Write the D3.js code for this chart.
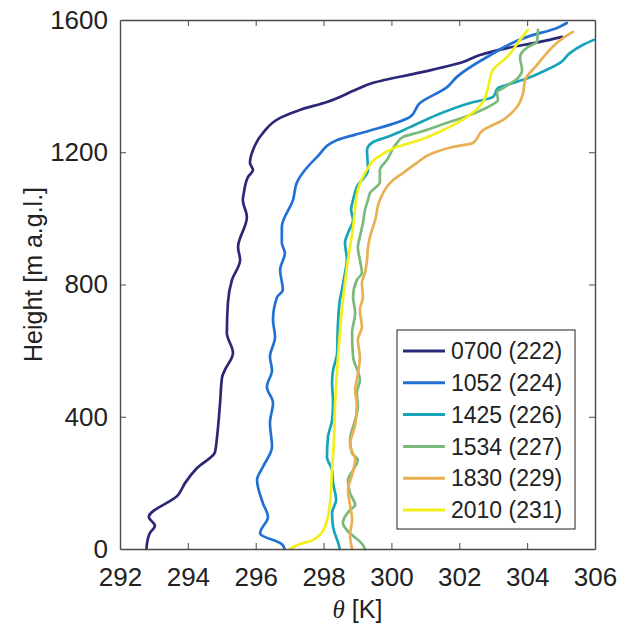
<!DOCTYPE html>
<html><head><meta charset="utf-8">
<script src="https://cdn.jsdelivr.net/npm/d3@7"></script>
<style>body{margin:0;background:#fff}svg{display:block}text{font-family:"Liberation Sans",Arial,sans-serif}</style>
</head><body><svg id="c" width="619" height="636"></svg>
<script>
const xTicks = [292,294,296,298,300,302,304,306];
const yTicks = [0,400,800,1200,1600];
const seriesNames = ["0700 (222)","1052 (224)","1425 (226)","1534 (227)","1830 (229)","2010 (231)"];
const seriesColors = ["#2b2878","#2271d2","#17a4b8","#79b97b","#e9b052","#f3ee1c"];

const h0700 = [0,12,48,70,97,163,200,245,293,339,442,520,541,593,653,744,814,874,913,1004,1056,1077,1125,1146,1168,1207,1258,1304,1328,1352,1388,1410,1443,1473,1494,1515,1534,1549];
const t0700 = [292.78,292.79,292.88,293.03,292.85,293.71,293.92,294.27,294.80,294.86,294.95,295.01,295.09,295.33,295.15,295.18,295.30,295.54,295.48,295.74,295.62,295.65,295.77,295.92,295.83,295.92,296.21,296.72,297.30,298.10,298.93,299.46,300.93,302.11,302.61,303.41,304.38,305.03];

const h1052 = [0,12,48,97,139,209,248,309,381,442,490,541,581,641,693,762,783,844,895,926,974,1056,1110,1186,1237,1261,1307,1349,1397,1428,1488,1549,1576,1591];
const t1052 = [296.85,296.80,296.13,296.36,296.21,296.04,296.21,296.48,296.42,296.51,296.33,296.48,296.42,296.57,296.51,296.63,296.80,296.72,296.86,296.77,296.77,297.10,297.22,297.81,298.40,299.22,300.55,300.84,301.64,301.93,302.82,304.00,304.88,305.17];

const h1425 = [0,12,67,109,148,200,239,278,339,390,442,502,541,593,672,753,783,835,874,926,956,995,1025,1056,1095,1146,1207,1231,1246,1276,1313,1349,1367,1394,1404,1419,1440,1470,1500,1525,1540];
const t1425 = [298.48,298.45,298.28,298.25,298.37,298.28,298.25,298.10,298.13,298.25,298.28,298.25,298.28,298.40,298.42,298.48,298.54,298.63,298.69,298.63,298.72,298.87,298.81,298.87,298.98,299.31,299.28,299.46,299.87,300.55,301.34,302.32,302.99,303.14,303.41,303.88,304.38,304.97,305.26,305.65,305.97];

const h1534 = [0,12,57,79,118,133,169,209,239,269,290,330,390,430,472,511,581,653,714,762,814,835,874,913,944,986,1025,1056,1077,1110,1146,1177,1228,1246,1261,1289,1313,1343,1358,1382,1394,1425,1449,1488,1518,1534,1570];
const t1534 = [299.22,299.16,298.69,298.57,298.78,298.93,298.78,298.72,298.87,299.01,298.84,298.78,298.93,299.01,298.98,299.07,298.87,298.84,298.93,298.87,298.98,299.13,299.07,299.01,299.07,299.16,299.22,299.31,299.37,299.66,299.66,299.87,300.16,300.34,300.84,301.64,302.32,302.96,303.14,303.11,303.29,303.73,303.85,303.79,304.02,304.29,304.32];

const h1830 = [0,42,88,133,178,224,269,315,375,436,481,511,581,632,672,723,762,805,835,874,913,944,995,1056,1116,1137,1168,1198,1216,1228,1267,1298,1337,1379,1419,1464,1500,1531,1549,1564];
const t1830 = [298.84,298.78,298.84,298.78,298.72,298.84,298.93,298.78,298.93,298.98,298.93,298.98,299.07,299.01,299.13,299.07,299.16,299.13,299.22,299.28,299.31,299.37,299.52,299.66,300.05,300.34,300.75,301.22,301.81,302.40,302.70,303.29,303.70,303.88,303.94,304.29,304.58,304.88,305.11,305.35];

const h2010 = [0,15,27,67,139,239,339,442,541,653,753,853,974,1056,1086,1137,1186,1216,1237,1273,1307,1352,1397,1449,1488,1540,1570];
const t2010 = [297.01,297.30,297.69,298.04,298.19,298.25,298.31,298.34,298.40,298.48,298.57,298.69,298.87,298.96,299.01,299.22,299.60,300.16,300.84,301.64,302.23,302.70,302.85,302.99,303.41,303.79,304.02];

const heights = [h0700,h1052,h1425,h1534,h1830,h2010];
const thetas = [t0700,t1052,t1425,t1534,t1830,t2010];

const svg = d3.select("#c");
const L=120,R=595,T=20,B=549;
const x = d3.scaleLinear().domain([292,306]).range([L,R]);
const y = d3.scaleLinear().domain([0,1600]).range([B,T]);
const axisColor="#4a4a4a";

// lines
const line = d3.line().x(d=>x(d[0])).y(d=>y(d[1])).curve(d3.curveMonotoneY);
const g = svg.append("g");
heights.forEach((hs,i)=>{
  const pts = hs.map((h,j)=>[thetas[i][j],h]);
  g.append("path").attr("d",line(pts)).attr("fill","none")
   .attr("stroke",seriesColors[i]).attr("stroke-width",2.7)
   .attr("stroke-linejoin","round").attr("stroke-linecap","round");
});

// axes
const fs = 26;
const fmt = d3.format("d");
const xb = svg.append("g").attr("transform",`translate(0,${B})`)
  .call(d3.axisBottom(x).tickValues(xTicks).tickFormat(fmt).tickSizeInner(-6).tickSizeOuter(0).tickPadding(19));
const xt = svg.append("g").attr("transform",`translate(0,${T})`)
  .call(d3.axisTop(x).tickValues(xTicks).tickSizeInner(-6).tickSizeOuter(0).tickFormat(""));
const yl = svg.append("g").attr("transform",`translate(${L},0)`)
  .call(d3.axisLeft(y).tickValues(yTicks).tickFormat(fmt).tickSizeInner(-6).tickSizeOuter(0).tickPadding(12));
const yr = svg.append("g").attr("transform",`translate(${R},0)`)
  .call(d3.axisRight(y).tickValues(yTicks).tickSizeInner(-6).tickSizeOuter(0).tickFormat(""));
[xb,xt,yl,yr].forEach(a=>{
  a.selectAll(".domain").attr("stroke",axisColor).attr("stroke-width",1.4);
  a.selectAll(".tick line").attr("stroke",axisColor).attr("stroke-width",1);
  a.selectAll(".tick text").attr("fill","#222").style("font-size",fs+"px")
   .style("font-family",'"Liberation Sans",Arial,sans-serif');
});
[xb,xt].forEach(a=>a.selectAll(".tick line").filter(d=>d===292||d===306).remove());
[yl,yr].forEach(a=>a.selectAll(".tick line").filter(d=>d===0||d===1600).remove());

// axis titles
svg.append("text").attr("transform",`translate(42,${(T+B)/2-10}) rotate(-90)`)
  .attr("text-anchor","middle").attr("fill","#222").style("font-size","25px").text("Height [m a.g.l.]");
const xl = svg.append("text").attr("x",(L+R)/2).attr("y",618).attr("text-anchor","middle")
  .attr("fill","#222").style("font-size","25px");
xl.append("tspan").style("font-family",'"Liberation Serif",serif').style("font-style","italic").text("θ");
xl.append("tspan").text(" [K]");

// legend
const lg = svg.append("g");
const lx=397, ly=330, lw=178, lh=199;
lg.append("rect").attr("x",lx).attr("y",ly).attr("width",lw).attr("height",lh)
  .attr("fill","#fff").attr("stroke","#222").attr("stroke-width",1);
const rowY = d3.scalePoint().domain(seriesNames).range([ly+21, ly+180]);
seriesNames.forEach((n,i)=>{
  lg.append("line").attr("x1",lx+6).attr("x2",lx+48).attr("y1",rowY(n)).attr("y2",rowY(n))
    .attr("stroke",seriesColors[i]).attr("stroke-width",3);
  lg.append("text").attr("x",lx+54).attr("y",rowY(n)).attr("dy","0.36em")
    .attr("fill","#222").style("font-size","23px").text(n);
});
</script></body></html>
